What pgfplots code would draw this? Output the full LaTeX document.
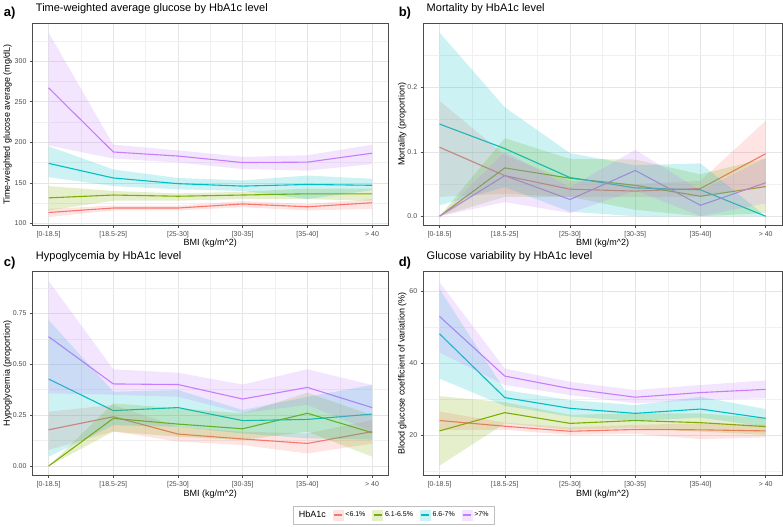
\documentclass[border=0pt]{standalone}
\usepackage{fontspec}
\setmainfont{Liberation Sans}
\usepackage{pgfplots}
\usepackage{pgfplotstable}
\pgfplotsset{compat=1.18}

\definecolor{hA}{HTML}{F8766D}
\definecolor{hB}{HTML}{7CAE00}
\definecolor{hC}{HTML}{00BFC4}
\definecolor{hD}{HTML}{C77CFF}

% r = <6.1%, g = 6.1-6.5%, t = 6.6-7%, p = >7%
% lines: x, value; bands: upper limits for x = 1..6, then lower limits for x = 6..1
\pgfplotstableread{
x r g t p
1 113.5 131.5 174 267
2 119 135 156 188
3 119 133.5 149 183
4 124 135 146 175
5 120.5 136.5 148 175.5
6 125.5 136.5 147 186.5
}\linglu
\pgfplotstableread{
x r g t p
1 118 146 195 335
2 122 140 166.5 197
3 122 137 156 190
4 127.5 139 153 182
5 124 143 159 184
6 130 143 155 197
6 118 128 141 173
5 116 130 130 165
4 120 130 140 167
3 116 128 142 175
2 116 128 146 180
1 108 116 157 196
}\bandglu

\pgfplotstableread{
x r g t p
1 0.107 0 0.143 0
2 0.063 0.075 0.105 0.063
3 0.042 0.059 0.060 0.026
4 0.039 0.048 0.044 0.071
5 0.043 0.031 0.041 0.017
6 0.097 0.046 0 0.052
}\linmort
\pgfplotstableread{
x r g t p
1 0.179 0 0.285 0
2 0.095 0.121 0.169 0.100
3 0.055 0.089 0.098 0.045
4 0.050 0.088 0.079 0.103
5 0.055 0.065 0.082 0.040
6 0.148 0.090 0 0.090
6 0.045 0.005 0 0.020
5 0.030 0 0 0
4 0.030 0.010 0 0.040
3 0.030 0.030 0.007 0.005
2 0.035 0.030 0.045 0.022
1 0.030 0 0.017 0
}\bandmort

\pgfplotstableread{
x r g t p
1 0.178 0 0.427 0.635
2 0.242 0.234 0.272 0.403
3 0.157 0.206 0.287 0.400
4 0.133 0.183 0.223 0.329
5 0.111 0.259 0.229 0.386
6 0.169 0.164 0.255 0.287
}\linhypo
\pgfplotstableread{
x r g t p
1 0.267 0 0.717 0.909
2 0.300 0.308 0.365 0.475
3 0.193 0.283 0.373 0.458
4 0.169 0.259 0.275 0.400
5 0.160 0.360 0.340 0.475
6 0.226 0.250 0.398 0.398
6 0.110 0.046 0.130 0.170
5 0.062 0.169 0.136 0.300
4 0.103 0.128 0.160 0.260
3 0.120 0.144 0.193 0.340
2 0.170 0.169 0.200 0.350
1 0.079 0 0.046 0.357
}\bandhypo

\pgfplotstableread{
x r g t p
1 24.0 21.1 48.2 53.05
2 22.4 26.2 30.4 36.4
3 21.0 23.2 27.4 32.9
4 21.5 24.0 26.0 30.5
5 21.4 23.4 27.2 31.8
6 21.1 22.3 24.6 32.7
}\lincv
\pgfplotstableread{
x r g t p
1 26.5 30.8 60.7 62.6
2 23.4 29.1 32.5 38.5
3 22.1 25.6 29.7 34.8
4 22.8 26.0 28.3 32.5
5 23.2 26.0 30.6 33.9
6 22.8 24.6 27.2 35.2
6 19.3 20.0 22.3 30.2
5 18.8 20.9 24.8 29.7
4 20.3 21.9 23.9 28.8
3 20.0 21.4 25.1 31.1
2 21.4 23.2 28.1 33.9
1 21.4 11.4 35.7 43.0
}\bandcv

% lines first, ribbons on top (as in the source figure)
\newcommand{\drawgroups}[2]{%
  \addplot[hA, line width=1.1pt, forget plot] table[x=x,y=r]{#1};
  \addplot[hB, line width=1.1pt, forget plot] table[x=x,y=g]{#1};
  \addplot[hC, line width=1.1pt, forget plot] table[x=x,y=t]{#1};
  \addplot[hD, line width=1.1pt, forget plot] table[x=x,y=p]{#1};
  \addplot[draw=none, fill=hA, fill opacity=0.2, forget plot] table[x=x,y=r]{#2} -- cycle;
  \addplot[draw=none, fill=hB, fill opacity=0.2, forget plot] table[x=x,y=g]{#2} -- cycle;
  \addplot[draw=none, fill=hC, fill opacity=0.2, forget plot] table[x=x,y=t]{#2} -- cycle;
  \addplot[draw=none, fill=hD, fill opacity=0.2, forget plot] table[x=x,y=p]{#2} -- cycle;
}
\newcommand{\keyimage}[1]{%
  \addlegendimage{legend image code/.code={\fill[#1!20] (0pt,-5pt) rectangle (10pt,5pt);
    \draw[#1, line width=1.1pt] (1pt,0pt) -- (9pt,0pt);}}%
}

\pgfplotsset{
  panel/.style={
    scale only axis,
    anchor=south west,
    xmin=0.75, xmax=6.25,
    xtick={1,2,3,4,5,6},
    xticklabels={{[0-18.5]},{[18.5-25]},{[25-30]},{[30-35]},{[35-40]},{> 40}},
    minor xtick={1.5,2.5,3.5,4.5,5.5},
    grid=both,
    major grid style={black!10, line width=0.5pt},
    minor grid style={black!6, line width=0.3pt},
    axis line style={black!70, line width=0.5pt},
    tick style={black!70, line width=0.5pt},
    tick align=outside,
    xtick pos=bottom, ytick pos=left,
    major tick length=2.5pt, minor tick length=0pt,
    tick label style={font=\fontsize{7}{8}\selectfont, text=black!70},
    /pgf/number format/assume math mode=true,
    label style={font=\fontsize{9}{10}\selectfont},
    xlabel={BMI (kg/m\textasciicircum 2)},
    title style={at={(axis description cs:0,1)}, anchor=base west, yshift=6pt,
      font=\fontsize{11}{12}\selectfont},
  }
}

\begin{document}
\begin{tikzpicture}

% a) glucose
\begin{axis}[panel, at={(32pt,301pt)}, width=356pt, height=202.3pt,
  ymin=97.5, ymax=346.5, ytick={100,150,200,250,300},
  minor ytick={125,175,225,275,325},
  title={Time-weighted average glucose by HbA1c level},
  ylabel={Time-weighted glucose average (mg/dL)},
  xlabel style={at={(axis description cs:0.5,-0.089)}, anchor=center},
  ylabel style={at={(axis description cs:-0.070,0.5)}, anchor=center}]
\drawgroups{\linglu}{\bandglu}
\end{axis}

% b) mortality
\begin{axis}[panel, at={(423pt,301pt)}, width=359pt, height=202.3pt,
  ymin=-0.0143, ymax=0.2993, ytick={0,0.1,0.2},
  minor ytick={0.05,0.15,0.25},
  yticklabel style={/pgf/number format/.cd, fixed, precision=1, fixed zerofill},
  title={Mortality by HbA1c level},
  ylabel={Mortality (proportion)},
  xlabel style={at={(axis description cs:0.5,-0.089)}, anchor=center},
  ylabel style={at={(axis description cs:-0.058,0.5)}, anchor=center}]
\drawgroups{\linmort}{\bandmort}
\end{axis}

% c) hypoglycemia
\begin{axis}[panel, at={(32pt,51pt)}, width=356pt, height=204pt,
  ymin=-0.0455, ymax=0.955, ytick={0,0.25,0.5,0.75},
  minor ytick={0.125,0.375,0.625,0.875},
  yticklabel style={/pgf/number format/.cd, fixed, precision=2, fixed zerofill},
  title={Hypoglycemia by HbA1c level},
  ylabel={Hypoglycemia (proportion)},
  xlabel style={at={(axis description cs:0.5,-0.093)}, anchor=center},
  ylabel style={at={(axis description cs:-0.070,0.5)}, anchor=center},
  legend columns=5,
  legend style={at={(1.0154,-0.1946)}, anchor=center, draw=black!25,
    line width=0.6pt, font=\fontsize{7}{8}\selectfont, inner xsep=4pt, inner ysep=3pt,
    /tikz/every even column/.append style={column sep=5pt}}]
\drawgroups{\linhypo}{\bandhypo}
\addlegendimage{empty legend}
\addlegendentry{\fontsize{9}{10}\selectfont HbA1c}
\keyimage{hA}\addlegendentry{<6.1\%}
\keyimage{hB}\addlegendentry{6.1-6.5\%}
\keyimage{hC}\addlegendentry{6.6-7\%}
\keyimage{hD}\addlegendentry{>7\%}
\end{axis}

% d) glucose variability
\begin{axis}[panel, at={(423pt,51pt)}, width=359pt, height=204pt,
  ymin=8.7, ymax=65.6, ytick={20,40,60},
  minor ytick={10,30,50},
  title={Glucose variability by HbA1c level},
  ylabel={Blood glucose coefficient of variation (\%)},
  xlabel style={at={(axis description cs:0.5,-0.093)}, anchor=center},
  ylabel style={at={(axis description cs:-0.058,0.5)}, anchor=center}]
\drawgroups{\lincv}{\bandcv}
\end{axis}

\node[anchor=base west, font=\bfseries\fontsize{13}{14}\selectfont] at (0pt,510pt) {a)};
\node[anchor=base west, font=\bfseries\fontsize{13}{14}\selectfont] at (395pt,510pt) {b)};
\node[anchor=base west, font=\bfseries\fontsize{13}{14}\selectfont] at (0pt,260pt) {c)};
\node[anchor=base west, font=\bfseries\fontsize{13}{14}\selectfont] at (395pt,260pt) {d)};
\path (0pt,0pt) rectangle (783pt,524pt);
\end{tikzpicture}
\end{document}
